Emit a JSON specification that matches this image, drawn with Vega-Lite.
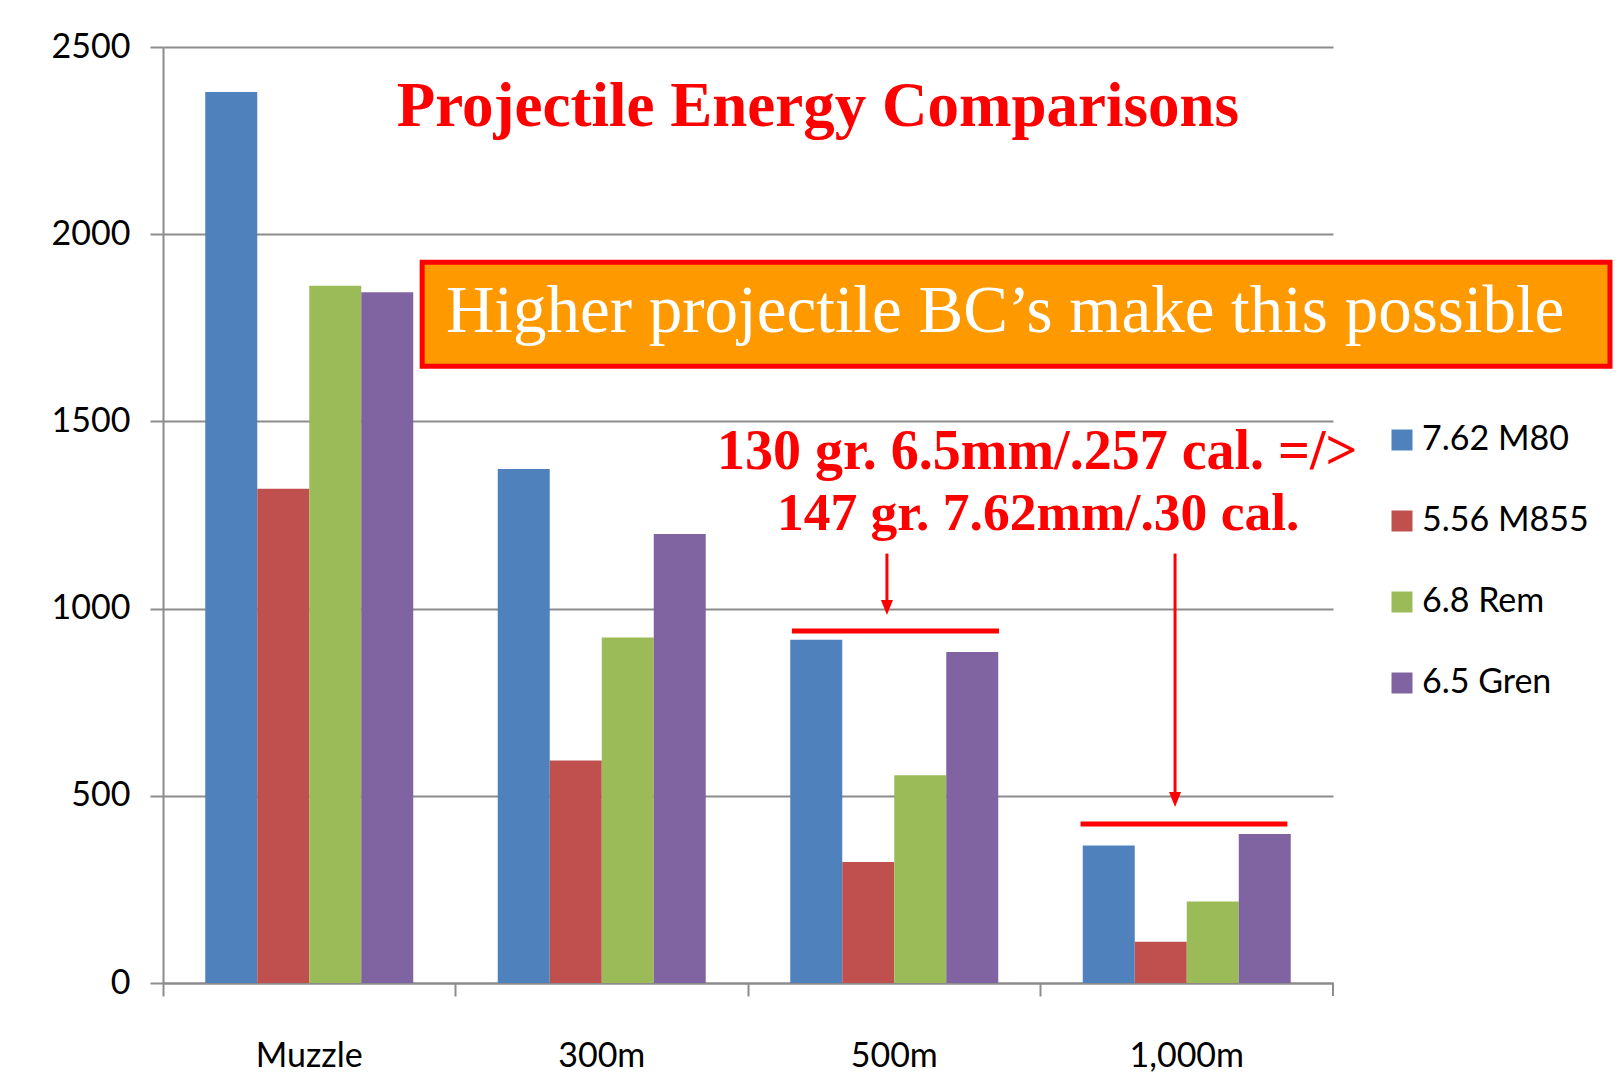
{
  "$schema": "https://vega.github.io/schema/vega-lite/v6.json",
  "width": 1170,
  "height": 936,
  "autosize": {"type": "none"},
  "padding": {"left": 163, "top": 47, "right": 290, "bottom": 94},
  "background": "white",
  "config": {"view": {"stroke": null}, "font": "Lato"},
  "resolve": {"scale": {"x": "independent"}},
  "layer": [
    {
      "data": {"values": [
        {"range": "Muzzle", "ammo": "7.62 M80", "energy": 2380},
        {"range": "Muzzle", "ammo": "5.56 M855", "energy": 1320},
        {"range": "Muzzle", "ammo": "6.8 Rem", "energy": 1862},
        {"range": "Muzzle", "ammo": "6.5 Gren", "energy": 1845},
        {"range": "300m", "ammo": "7.62 M80", "energy": 1373},
        {"range": "300m", "ammo": "5.56 M855", "energy": 594},
        {"range": "300m", "ammo": "6.8 Rem", "energy": 923},
        {"range": "300m", "ammo": "6.5 Gren", "energy": 1199},
        {"range": "500m", "ammo": "7.62 M80", "energy": 917},
        {"range": "500m", "ammo": "5.56 M855", "energy": 323},
        {"range": "500m", "ammo": "6.8 Rem", "energy": 555},
        {"range": "500m", "ammo": "6.5 Gren", "energy": 884},
        {"range": "1,000m", "ammo": "7.62 M80", "energy": 367},
        {"range": "1,000m", "ammo": "5.56 M855", "energy": 110},
        {"range": "1,000m", "ammo": "6.8 Rem", "energy": 218},
        {"range": "1,000m", "ammo": "6.5 Gren", "energy": 398}
      ]},
      "mark": {"type": "bar"},
      "encoding": {
        "x": {
          "field": "range", "type": "nominal",
          "sort": ["Muzzle", "300m", "500m", "1,000m"],
          "scale": {"paddingInner": 0, "paddingOuter": 0},
          "axis": {
            "title": null, "labelAngle": 0, "bandPosition": 0,
            "labelOffset": 0, "labelFontSize": 34, "labelColor": "#000000",
            "labelPadding": 43, "tickSize": 13, "tickColor": "#8c8c8c", "tickWidth": 2,
            "domainColor": "#8c8c8c", "domainWidth": 2, "grid": false
          }
        },
        "xOffset": {
          "field": "ammo", "type": "nominal",
          "sort": ["7.62 M80", "5.56 M855", "6.8 Rem", "6.5 Gren"],
          "scale": {"paddingInner": 0, "paddingOuter": 0.8125}
        },
        "y": {
          "field": "energy", "type": "quantitative", "title": null,
          "scale": {"domain": [0, 2500], "nice": false},
          "axis": {
            "values": [0, 500, 1000, 1500, 2000, 2500], "format": "d",
            "grid": true, "gridColor": "#8c8c8c", "gridWidth": 2,
            "domainColor": "#8c8c8c", "domainWidth": 2,
            "tickColor": "#8c8c8c", "tickWidth": 2, "tickSize": 13,
            "labelFontSize": 34, "labelColor": "#000000", "labelPadding": 20
          }
        },
        "color": {
          "field": "ammo", "type": "nominal",
          "sort": ["7.62 M80", "5.56 M855", "6.8 Rem", "6.5 Gren"],
          "scale": {"domain": ["7.62 M80", "5.56 M855", "6.8 Rem", "6.5 Gren"], "range": ["#4f81bd", "#c0504d", "#9bbb59", "#8064a2"]},
          "legend": {
            "title": null, "orient": "none", "legendX": 1222, "legendY": 376,
            "symbolType": "square", "symbolSize": 441, "symbolStrokeWidth": 0,
            "labelFontSize": 34, "labelColor": "#000000", "labelOffset": 3,
            "rowPadding": 47, "labelLimit": 400, "padding": 0
          }
        }
      }
    },
    {
      "data": {"values": [{"x": 4, "y": 0, "y2": -35}]},
      "mark": {"type": "rule", "color": "#8c8c8c", "strokeWidth": 2},
      "encoding": {
        "x": {"field": "x", "type": "quantitative", "scale": {"domain": [0, 4], "nice": false, "zero": false}, "axis": null},
        "y": {"field": "y", "type": "quantitative", "title": null},
        "y2": {"field": "y2"}
      }
    },
    {
      "data": {"values": [
        {"x": 2.150, "x2": 2.858, "y": 940},
        {"x": 3.137, "x2": 3.844, "y": 425}
      ]},
      "mark": {"type": "rule", "color": "#ff0000", "strokeWidth": 5},
      "encoding": {
        "x": {"field": "x", "type": "quantitative", "scale": {"domain": [0, 4], "nice": false, "zero": false}, "axis": null},
        "x2": {"field": "x2"},
        "y": {"field": "y", "type": "quantitative", "title": null}
      }
    },
    {
      "data": {"values": [
        {"x": 2.475, "y": 1147, "y2": 1023},
        {"x": 3.460, "y": 1147, "y2": 510}
      ]},
      "mark": {"type": "rule", "color": "#ff0000", "strokeWidth": 3},
      "encoding": {
        "x": {"field": "x", "type": "quantitative", "scale": {"domain": [0, 4], "nice": false, "zero": false}, "axis": null},
        "y": {"field": "y", "type": "quantitative", "title": null},
        "y2": {"field": "y2"}
      }
    },
    {
      "data": {"values": [
        {"x": 2.475, "y": 1003},
        {"x": 3.460, "y": 490}
      ]},
      "mark": {"type": "point", "shape": "M-0.8,-1L0.8,-1L0,1Z", "size": 225, "filled": true, "color": "#ff0000", "opacity": 1},
      "encoding": {
        "x": {"field": "x", "type": "quantitative", "scale": {"domain": [0, 4], "nice": false, "zero": false}, "axis": null},
        "y": {"field": "y", "type": "quantitative", "title": null}
      }
    },
    {
      "data": {"values": [{"x": 0.886, "x2": 4.947, "y": 1925, "y2": 1647}]},
      "mark": {"type": "rect", "fill": "#ff9900", "stroke": "#ff0000", "strokeWidth": 5},
      "encoding": {
        "x": {"field": "x", "type": "quantitative", "scale": {"domain": [0, 4], "nice": false, "zero": false}, "axis": null},
        "x2": {"field": "x2"},
        "y": {"field": "y", "type": "quantitative", "title": null},
        "y2": {"field": "y2"}
      }
    },
    {
      "data": {"values": [{"x": 2.879, "y": 1792, "label": "Higher projectile BC’s make this possible"}]},
      "mark": {"type": "text", "font": "Liberation Serif", "fontSize": 67, "color": "#ffffff", "align": "center", "baseline": "middle"},
      "encoding": {
        "x": {"field": "x", "type": "quantitative", "scale": {"domain": [0, 4], "nice": false, "zero": false}, "axis": null},
        "y": {"field": "y", "type": "quantitative", "title": null},
        "text": {"field": "label"}
      }
    },
    {
      "data": {"values": [
        {"x": 2.239, "y": 2339, "label": "Projectile Energy Comparisons", "size": 63},
        {"x": 2.989, "y": 1418, "label": "130 gr. 6.5mm/.257 cal. =/>", "size": 56},
        {"x": 2.992, "y": 1252, "label": "147 gr. 7.62mm/.30 cal.", "size": 53.5}
      ]},
      "mark": {"type": "text", "font": "Liberation Serif", "fontWeight": "bold", "color": "#ff0000", "align": "center", "baseline": "middle"},
      "encoding": {
        "x": {"field": "x", "type": "quantitative", "scale": {"domain": [0, 4], "nice": false, "zero": false}, "axis": null},
        "y": {"field": "y", "type": "quantitative", "title": null},
        "text": {"field": "label"},
        "size": {"field": "size", "type": "quantitative", "scale": null, "legend": null}
      }
    }
  ]
}
